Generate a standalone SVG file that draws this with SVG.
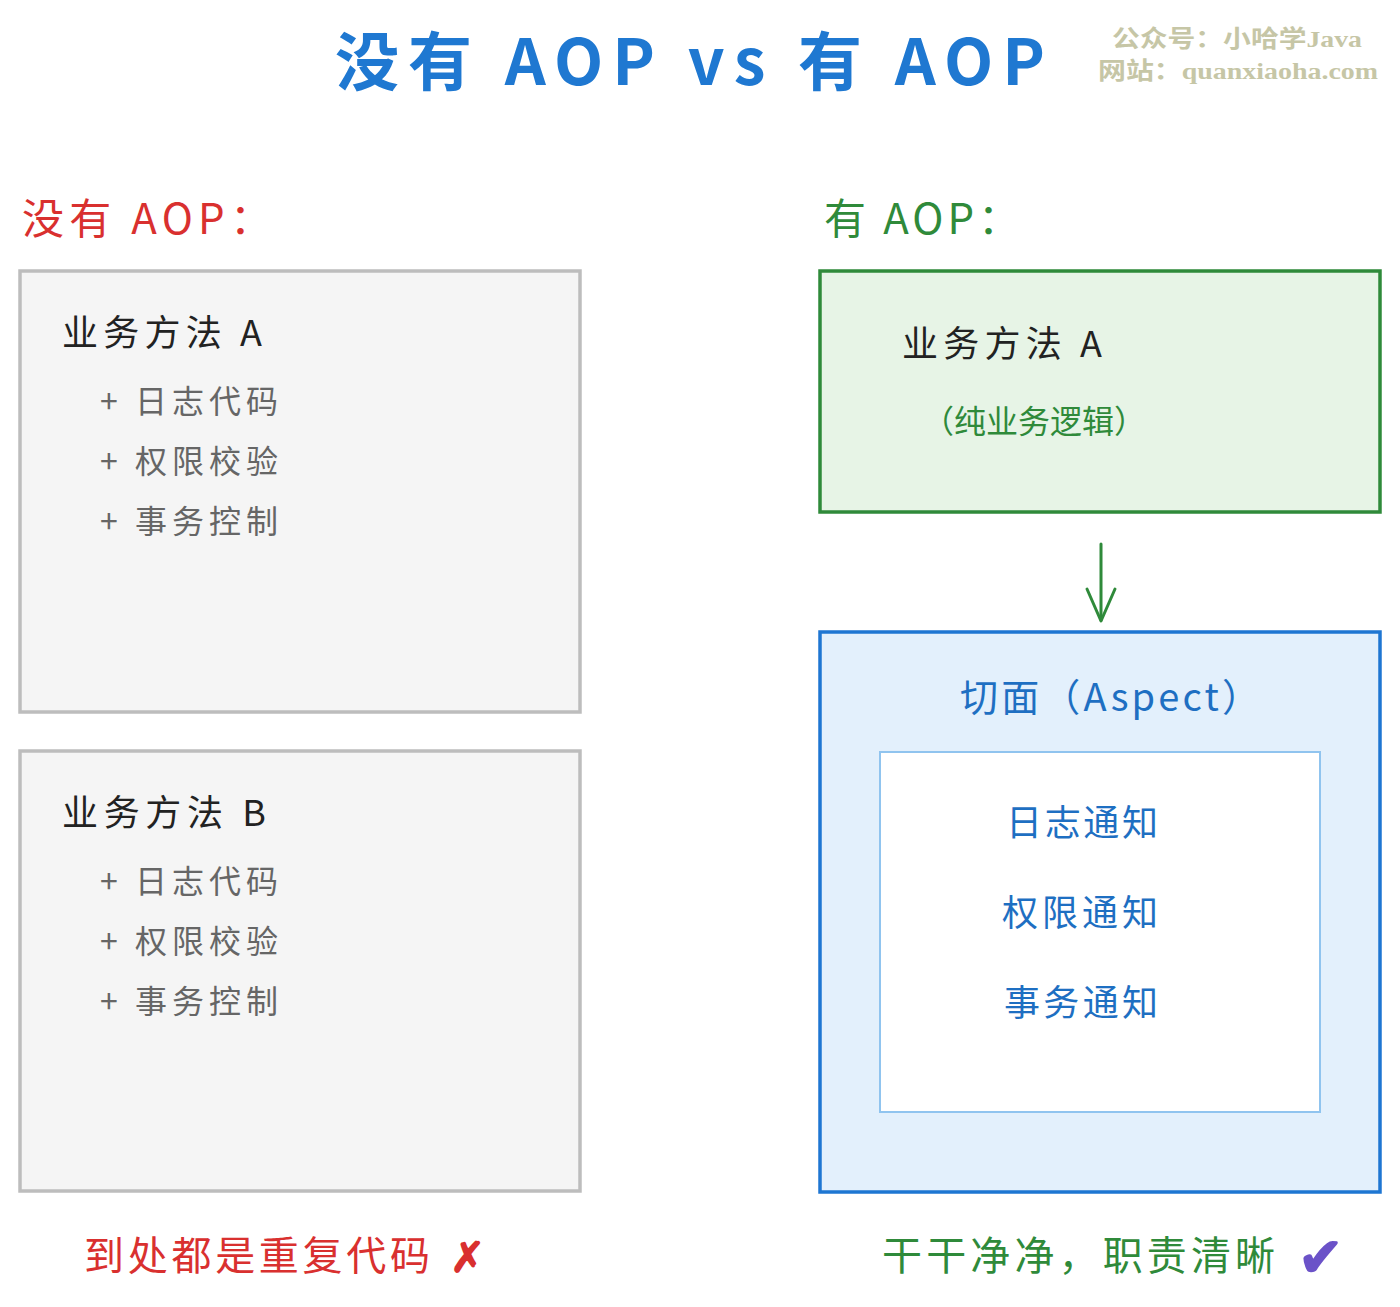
<svg xmlns="http://www.w3.org/2000/svg" width="1400" height="1307" viewBox="0 0 1400 1307">
<defs>
<style>
text{font-family:"Noto Sans CJK SC","Noto Sans",sans-serif;}
.title{font-size:64px;fill:#1f78d1;font-weight:bold;}
.wm{font-family:"Liberation Serif","Noto Sans CJK SC",serif;font-size:24px;font-weight:bold;fill:#c6c6a6;}
.hdr{font-size:42px;}
.red{fill:#d9302f;}
.green{fill:#2f8a3a;}
.gbox{fill:#f5f5f5;stroke:#bdbdbd;stroke-width:3.5;}
.head{font-size:36px;fill:#222;}
.item{font-size:32px;fill:#666;}
.okbox{fill:#e7f4e6;stroke:#2f8a3a;stroke-width:3.5;}
.abox{fill:#e3f0fc;stroke:#1e76d2;stroke-width:3.5;}
.ibox{fill:#ffffff;stroke:#90c4ef;stroke-width:2;}
.blue{fill:#1e6fc2;}
.conn{stroke:#2f8a3a;stroke-width:3;fill:none;stroke-linecap:round;stroke-linejoin:round;}
</style>
</defs>
<rect width="1400" height="1307" fill="#ffffff"/>

<g id="title">
<text class="title" x="335" y="85" textLength="710" lengthAdjust="spacing">没有 AOP vs 有 AOP</text>
</g>
<g id="watermark">
<text class="wm" x="1112" y="47" textLength="250" lengthAdjust="spacingAndGlyphs">公众号：小哈学Java</text>
<text class="wm" x="1098" y="79" textLength="280" lengthAdjust="spacingAndGlyphs">网站：quanxiaoha.com</text>
</g>

<g id="left-header">
<text class="hdr red" x="22" y="234" textLength="250" lengthAdjust="spacing">没有 AOP：</text>
</g>
<g id="right-header">
<text class="hdr green" x="824" y="234" textLength="196" lengthAdjust="spacing">有 AOP：</text>
</g>

<g id="method-a">
<rect class="gbox" x="20" y="271" width="560" height="441"/>
<text class="head" x="62" y="346" textLength="200" lengthAdjust="spacing">业务方法 A</text>
<text class="item" x="100" y="413" textLength="178" lengthAdjust="spacing">+ 日志代码</text>
<text class="item" x="100" y="473" textLength="178" lengthAdjust="spacing">+ 权限校验</text>
<text class="item" x="100" y="533" textLength="178" lengthAdjust="spacing">+ 事务控制</text>
</g>

<g id="method-b">
<rect class="gbox" x="20" y="751" width="560" height="440"/>
<text class="head" x="62" y="826" textLength="204" lengthAdjust="spacing">业务方法 B</text>
<text class="item" x="100" y="893" textLength="178" lengthAdjust="spacing">+ 日志代码</text>
<text class="item" x="100" y="953" textLength="178" lengthAdjust="spacing">+ 权限校验</text>
<text class="item" x="100" y="1013" textLength="178" lengthAdjust="spacing">+ 事务控制</text>
</g>

<g id="left-summary">
<text class="red" x="84" y="1270" font-size="40" textLength="346" lengthAdjust="spacing">到处都是重复代码</text>
<text class="red" x="450" y="1272" font-size="42" font-weight="bold">✗</text>
</g>

<g id="pure-method">
<rect class="okbox" x="820" y="271" width="560" height="241"/>
<text class="head green" x="902" y="357" textLength="200" lengthAdjust="spacing">业务方法 A</text>
<text class="green" x="922" y="433" font-size="32" textLength="224" lengthAdjust="spacing">（纯业务逻辑）</text>
</g>

<g id="connectors">
<path class="conn" d="M1101 544 L1101 620"/>
<path class="conn" d="M1087 589 L1101 621 L1115 589"/>
</g>

<g id="aspect">
<rect class="abox" x="820" y="632" width="560" height="560"/>
<text class="blue" x="960" y="711" font-size="38" textLength="300" lengthAdjust="spacing">切面（Aspect）</text>
<rect class="ibox" x="880" y="752" width="440" height="360"/>
<text class="blue" x="1006" y="836" font-size="36" textLength="152" lengthAdjust="spacing">日志通知</text>
<text class="blue" x="1002" y="926" font-size="36" textLength="156" lengthAdjust="spacing">权限通知</text>
<text class="blue" x="1004" y="1016" font-size="36" textLength="154" lengthAdjust="spacing">事务通知</text>
</g>

<g id="right-summary">
<text class="green" x="882" y="1270" font-size="40" textLength="393" lengthAdjust="spacing">干干净净，职责清晰</text>
<text x="1298" y="1276" font-size="54" font-weight="bold" fill="#6b52c8">✔</text>
</g>
</svg>
